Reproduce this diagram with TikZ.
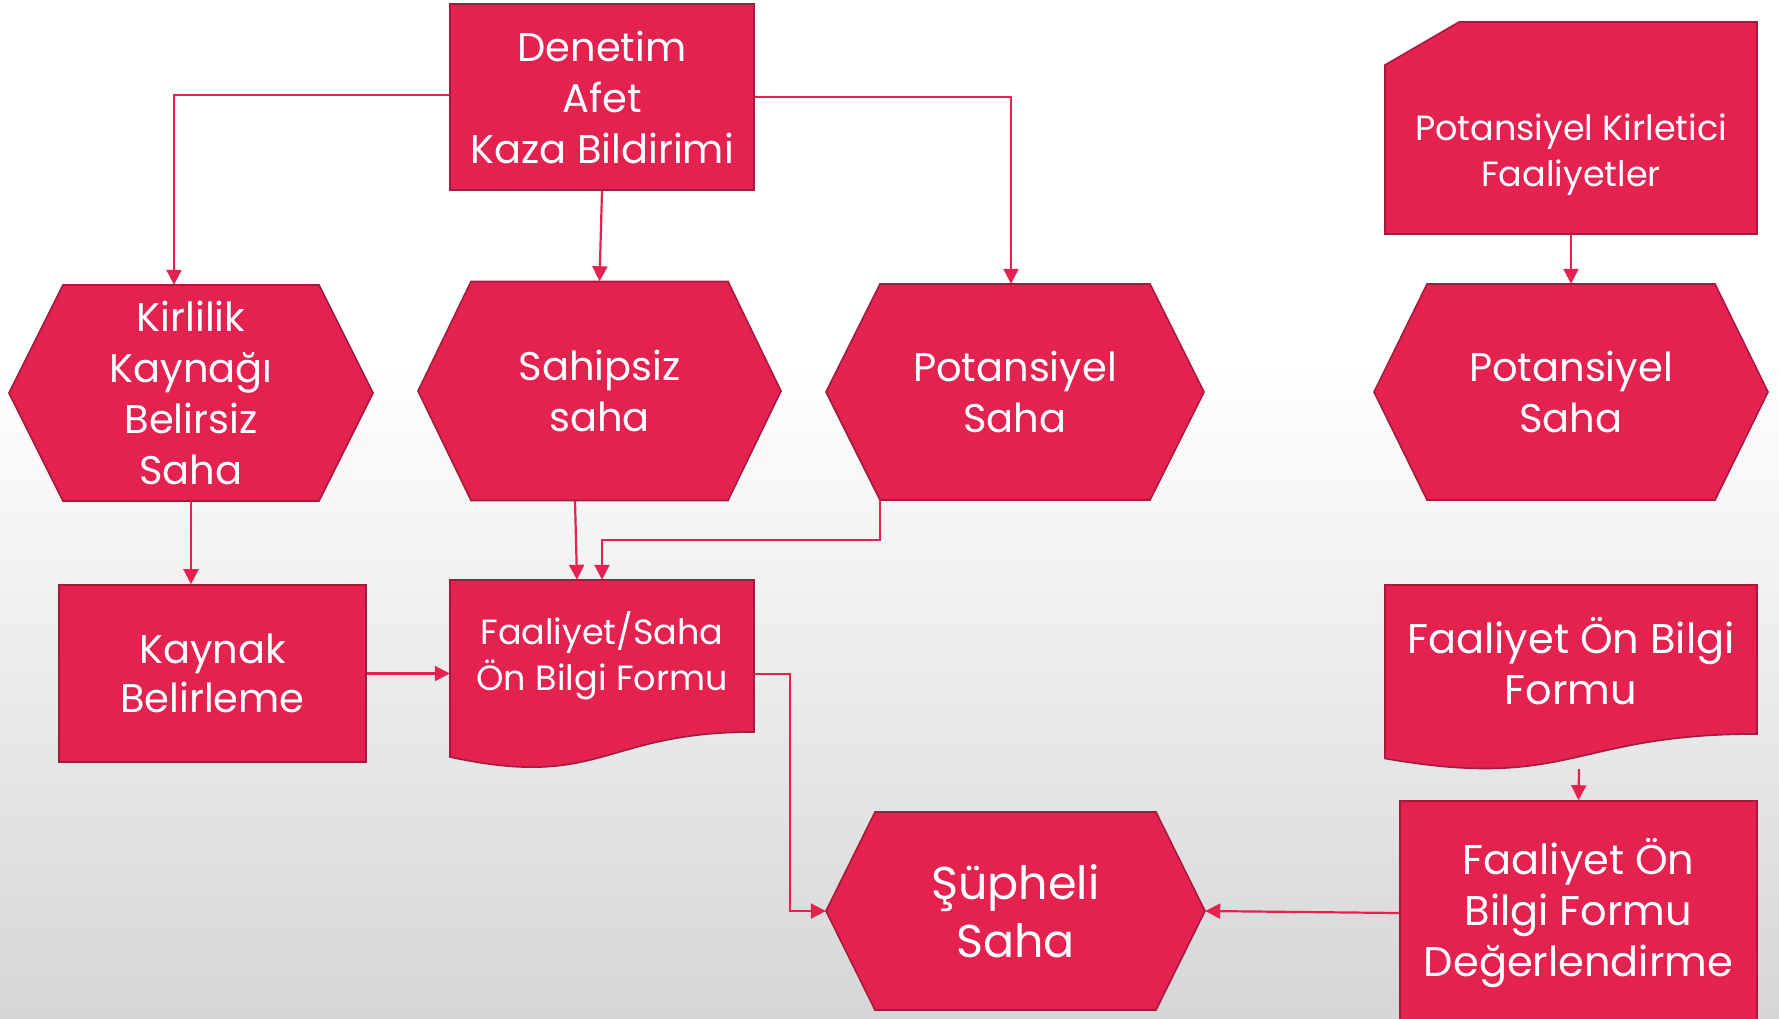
\documentclass[tikz,border=0pt]{standalone}
\usepackage{fontspec}
\setmainfont{Poppins}
\usetikzlibrary{calc,arrows.meta}
\definecolor{crim}{HTML}{E4224F}
\definecolor{crimdark}{HTML}{A8193D}
\definecolor{bgbot}{HTML}{D6D6D6}
\newcommand\hexshape[8][]{% opts, name, cx, cy, w, h, inset, text
  \path[shp] ({#3-#5/2},#4) -- ({#3-#5/2+#7},{#4-#6/2}) -- ({#3+#5/2-#7},{#4-#6/2})
    -- ({#3+#5/2},#4) -- ({#3+#5/2-#7},{#4+#6/2}) -- ({#3-#5/2+#7},{#4+#6/2}) -- cycle;
  \node[lbl, minimum width=#5pt, minimum height=#6pt, #1] (#2) at (#3,#4) {#8};
}
\begin{document}
\begin{tikzpicture}[x=1pt,y=-1pt,
  shp/.style={fill=crim, draw=crimdark, line width=1.6pt, line join=miter},
  lbl/.style={text=white, align=center, inner sep=0pt, font=\fontsize{40}{51}\selectfont},
  small/.style={font=\fontsize{35}{46}\selectfont},
  big/.style={font=\fontsize{46}{58}\selectfont},
  mid/.style={font=\fontsize{41.5}{51}\selectfont},
  conn/.style={draw=crim, line width=2.2pt, -{Triangle[length=15pt,width=15pt]}},
]
% background
\fill[white] (0,0) rectangle (1779,360);
\fill[top color=white, bottom color=bgbot] (0,359) rectangle (1779,1018);
\clip (0,0) rectangle (1779,1018);

% top box
\node[shp, lbl, minimum width=304pt, minimum height=186pt] (den) at (602,97)
  {Denetim\\Afet\\Kaza Bildirimi};

% top-right cut-corner box
\path[shp] (1385,65) -- (1459,22) -- (1757,22) -- (1757,234) -- (1385,234) -- cycle;
\node[minimum width=372pt, minimum height=212pt, inner sep=0pt] (pkf) at (1571,128) {};
\node[lbl, small] (pkft) at (1571,155) {Potansiyel Kirletici\\Faaliyetler};

% hexagons
\hexshape{hexa}{191}{393}{364}{216}{54}{Kirlilik\\Kaynağı\\Belirsiz\\Saha}
\hexshape{hexb}{599.5}{391}{363}{219}{53}{Sahipsiz\\saha}
\hexshape{hexc}{1015}{392}{378}{216}{54}{Potansiyel\\Saha}
\hexshape{hexd}{1571}{392}{394}{216}{53}{Potansiyel\\Saha}
\hexshape[big]{hexe}{1015.5}{911}{379}{198}{49}{Şüpheli\\Saha}

% Kaynak box
\node[shp, lbl, minimum width=307pt, minimum height=177pt] (kay) at (212.5,673.5)
  {\raisebox{-2pt}{Kaynak}\\Belirleme};

% document shapes
\path[shp] (450,580) -- (754,580) -- (754,732) .. controls (602,732) and (602,790) .. (450,757) -- cycle;
\node[lbl, small, minimum width=304pt, minimum height=152pt] (doca) at (602,656)
  {Faaliyet/Saha\\Ön Bilgi Formu};
\path[shp] (1385,585) -- (1757,585) -- (1757,734) .. controls (1571,734) and (1571,791) .. (1385,758.5) -- cycle;
\node[lbl, mid, minimum width=372pt, minimum height=149pt] (docb) at (1571,661)
  {Faaliyet Ön Bilgi\\Formu};

% evaluation box
\node[shp, lbl, mid, minimum width=357pt, minimum height=224pt] (deg) at (1578.5,913)
  {Faaliyet Ön\\Bilgi Formu\\Değerlendirme};

% connectors
\coordinate (denl) at ($(den.west)+(0,-2)$);
\draw[conn] (denl) -| ($(hexa.north)+(-17,0)$);
\draw[conn] (den.south) -- (hexb.north);
\draw[conn] (den.east) -| ($(hexc.north)+(-4,0)$);
\draw[conn] (pkf.south) -- (hexd.north);
\draw[conn] (hexa.south) -- (hexa.south |- kay.north);
\draw[conn] ($(hexb.south)+(-24.5,0)$) -- ($(doca.north)+(-25,0)$);
\draw[conn] ($(hexc.south west)+(54,0)$) -- ++(0,40) -| (doca.north);
\draw[conn] (kay.east) -- (kay.east -| doca.west);
\draw[conn] ($(doca.east)+(0,18)$) -- ++(36,0) |- (hexe.west);
\coordinate (docbb) at (1579,769);
\draw[conn] (docbb) -- (deg.north);
\draw[conn] (deg.west) -- (hexe.east);
\end{tikzpicture}
\end{document}
